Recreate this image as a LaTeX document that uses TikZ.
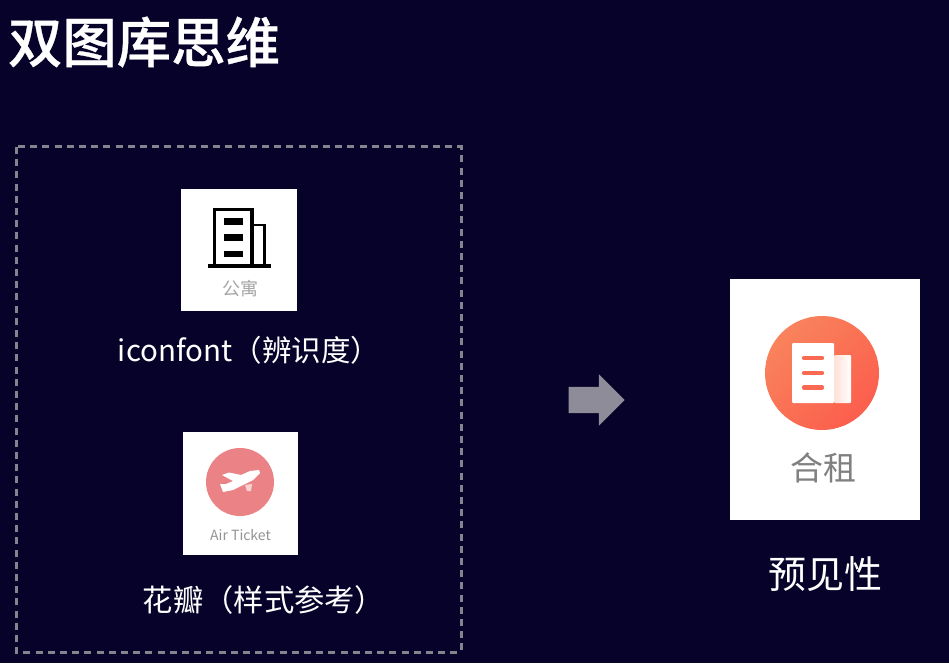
\documentclass[tikz,border=0pt]{standalone}
\usepackage{fontspec}
\setmainfont{Noto Sans CJK SC}
\newfontfamily\titlefont[FakeBold=0.6]{Noto Sans CJK SC Medium}
\usetikzlibrary{shapes.arrows}
\definecolor{bgnavy}{HTML}{060229}
\definecolor{arrowgray}{HTML}{8F8C99}
\definecolor{dashgray}{HTML}{85838D}
\definecolor{captiongray}{HTML}{A6A6A6}
\definecolor{ticketred}{HTML}{EB8286}
\definecolor{rentlight}{HTML}{F9835C}
\definecolor{rentdark}{HTML}{FB5E4D}
\tikzset{
  card/.style={fill=white,inner sep=0pt},
  label/.style={text=white,font=\fontsize{#1}{#1}\selectfont,inner sep=0pt},
  caption/.style={text=captiongray,font=\fontsize{#1}{#1}\selectfont,inner sep=0pt},
}
\begin{document}
\begin{tikzpicture}[x=1pt,y=-1pt]
  \fill[bgnavy] (0,0) rectangle (949,663);
  \useasboundingbox (0,0) rectangle (949,663);
  \node[text=white,inner sep=0pt,font=\titlefont\fontsize{54.4}{54}\selectfont] (title) at (144,42) {双图库思维};
  \draw[dashgray,line width=3pt,dash pattern=on 7pt off 5.2pt] (16,147) rectangle (461,652);

  \node[card,minimum width=115.5pt,minimum height=121.5pt] (apartment) at (239,250) {};
  \draw[line width=3.4pt] (214.5,266) -- (214.5,209.5) -- (252,209.5) -- (252,266);
  \draw[line width=2.6pt] (252,225) -- (264.5,225) -- (264.5,266);
  \draw[line width=3.4pt] (208,266) -- (271,266);
  \foreach \y in {221.7,237.7,254}
    \fill (224,\y-3.4) rectangle (243.3,\y+3.4);
  \node[caption=18] (apartmenttext) at (240,289) {公寓};
  \node[label=29.5] (iconfont) at (249,350) {iconfont（辨识度）};

  \node[card,minimum width=114.5pt,minimum height=123pt] (ticket) at (240.5,493.5) {};
  \fill[ticketred] (240,482) circle (34);
  \fill[white!65!ticketred] (245,485) -- (252,484) -- (251,491) -- (247,491) -- cycle;
  \fill[white] (259,470) -- (250,471) -- (241,475) -- (229,472.5) -- (222,475) -- (233,481) -- (226,484)
    -- (220,484) -- (223,492) -- (233,490) -- (253,480) -- (260,473) -- cycle;
  \node[caption=14,text=gray!85] (tickettext) at (240.5,535) {Air Ticket};
  \node[label=30.3] (petal) at (264,600) {花瓣（样式参考）};

  \node[single arrow,fill=arrowgray,inner sep=0pt,minimum height=56pt,minimum width=51pt,
    single arrow head extend=12.5pt] (next) at (590,400) {\rule{0pt}{26pt}};

  \node[card,minimum width=190pt,minimum height=241pt] (rent) at (825,399.5) {};
  \shade[left color=rentlight,right color=rentdark,shading angle=45] (822,373) circle (57);
  \shade[left color=white!75!rentlight,right color=white,rounded corners=1pt] (834,355) rectangle (851,403);
  \fill[white,rounded corners=1pt] (792,343) rectangle (834,403);
  \foreach \y in {358,373,387.5}
    \draw[rentdark!70!rentlight,line width=4.4pt,line cap=round] (804,\y) -- (822,\y);
  \node[caption=33,text=gray] (renttext) at (823,467.5) {合租};
  \node[label=38] (foresight) at (825,574) {预见性};
\end{tikzpicture}
\end{document}
